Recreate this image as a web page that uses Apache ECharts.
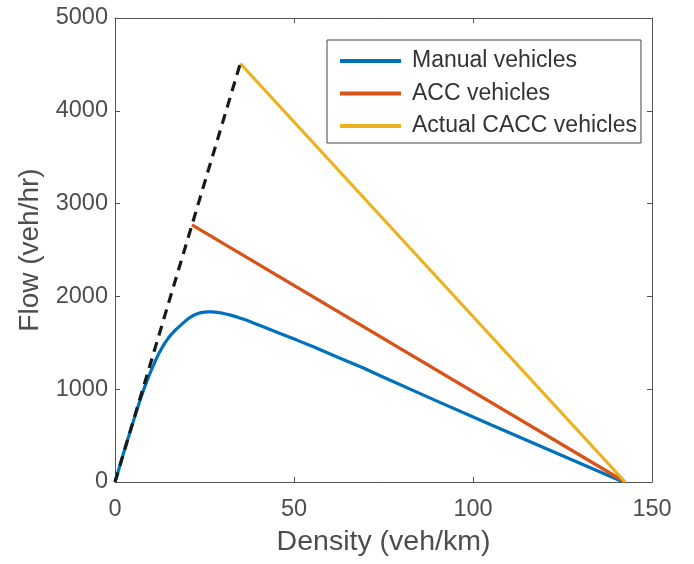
<!DOCTYPE html>
<html><head><meta charset="utf-8">
<script src="https://cdn.jsdelivr.net/npm/echarts@6/dist/echarts.min.js"></script>
<style>html,body{margin:0;padding:0;background:#fff}#c{width:694px;height:564px}</style>
</head><body><div id="c"></div>
<script>
const xTicks = [0, 50, 100, 150];
const yTicks = [0, 1000, 2000, 3000, 4000, 5000];
const manualX = [0, 1, 2, 3, 4, 5, 6, 7, 8, 9, 10, 11, 12, 13, 14, 15, 16, 17, 18, 19, 20, 21, 22, 23, 24, 25, 26, 27, 28, 29, 30, 32, 34, 36.8, 38.5, 41.4, 46.1, 50.8, 55.4, 60.1, 64.7, 69.4, 75, 89, 105, 120, 142];
const manualY = [0, 130, 260, 390, 515, 640, 762, 882, 995, 1098, 1192, 1282, 1365, 1438, 1502, 1556, 1602, 1642, 1677, 1712, 1746, 1775, 1797, 1813, 1825, 1831, 1834, 1834, 1831, 1826, 1819, 1801, 1779, 1742, 1716, 1672, 1601, 1529, 1457, 1379, 1304, 1228, 1128, 888, 617, 367, 0];
const accX = [21.5, 142.5];
const accY = [2770, 0];
const caccX = [35, 142.5];
const caccY = [4510, 0];
const freeFlowX = [0, 35];
const freeFlowY = [0, 4510];
const names = ['Manual vehicles', 'ACC vehicles', 'Actual CACC vehicles'];

const zip = (xs, ys) => xs.map((x, i) => [x, ys[i]]);
const font = 'Liberation Sans, Arial, sans-serif';
const txt = '#4d4d4d';
const axisCol = '#555';

const chart = echarts.init(document.getElementById('c'));
const baseX = {type: 'value', min: xTicks[0], max: xTicks[xTicks.length-1], interval: 50,
  splitLine: {show: false}, axisLine: {onZero: false, lineStyle: {color: axisCol, width: 1}},
  axisTick: {inside: true, length: 5, lineStyle: {color: axisCol}}};
const baseY = {type: 'value', min: yTicks[0], max: yTicks[yTicks.length-1], interval: 1000,
  splitLine: {show: false}, axisLine: {onZero: false, lineStyle: {color: axisCol, width: 1}},
  axisTick: {inside: true, length: 5, lineStyle: {color: axisCol}}};

chart.setOption({
  animation: false,
  grid: {left: 115, right: 42, top: 18, bottom: 82},
  legend: {
    data: names.map(n => ({name: n, icon: 'rect'})), orient: 'vertical', left: 327, top: 40,
    borderColor: '#444', borderWidth: 1, backgroundColor: '#fff',
    padding: [9, 4, 5, 13], itemGap: 8.5, itemWidth: 61, itemHeight: 4,
    textStyle: {fontFamily: font, fontSize: 23, lineHeight: 24, color: '#333', padding: [0,0,0,6]}
  },
  xAxis: [
    Object.assign({}, baseX, {position: 'bottom',
      axisLabel: {fontFamily: font, fontSize: 23.5, color: txt, margin: 16},
      name: 'Density (veh/km)', nameLocation: 'middle', nameGap: 46,
      nameTextStyle: {fontFamily: font, fontSize: 28.5, color: txt}}),
    Object.assign({}, baseX, {position: 'top', axisLabel: {show: false}})
  ],
  yAxis: [
    Object.assign({}, baseY, {position: 'left',
      axisLabel: {fontFamily: font, fontSize: 23.5, color: txt, margin: 7, formatter: v => String(v)},
      name: 'Flow (veh/hr)', nameLocation: 'middle', nameGap: 71,
      nameTextStyle: {fontFamily: font, fontSize: 28, color: txt}}),
    Object.assign({}, baseY, {position: 'right', axisLabel: {show: false}})
  ],
  series: [
    {name: 'free', type: 'line', data: zip(freeFlowX, freeFlowY), symbol: 'none',
      lineStyle: {color: '#1a1a1a', width: 3.2, type: [10, 7]}, z: 5},
    {name: names[0], type: 'line', data: zip(manualX, manualY), symbol: 'none',
      itemStyle: {color: '#0072BD'}, lineStyle: {color: '#0072BD', width: 3.2}},
    {name: names[1], type: 'line', data: zip(accX, accY), symbol: 'none',
      itemStyle: {color: '#D95319'}, lineStyle: {color: '#D95319', width: 3.2}},
    {name: names[2], type: 'line', data: zip(caccX, caccY), symbol: 'none',
      itemStyle: {color: '#EDB120'}, lineStyle: {color: '#EDB120', width: 3.2}}
  ]
});
</script></body></html>
